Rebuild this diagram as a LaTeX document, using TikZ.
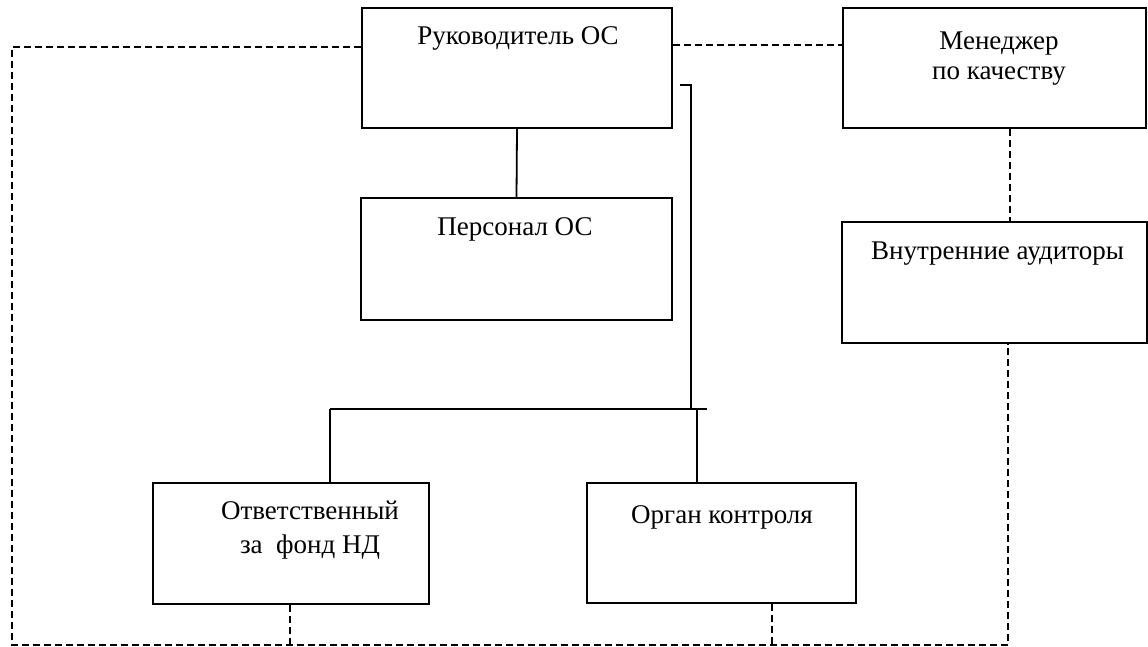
\documentclass[tikz,border=0pt]{standalone}
\usepackage{fontspec}
\setmainfont{Liberation Serif}
\begin{document}
\begin{tikzpicture}[x=1pt,y=-1pt,
  box/.style={draw, line width=1.8pt, inner sep=0pt, minimum width=#1},
  lbl/.style={anchor=base, inner sep=0pt, font=\fontsize{27}{32}\selectfont},
  conn/.style={line width=1.8pt},
  dsh/.style={line width=1.4pt, dash pattern=on 7pt off 4pt}]
\useasboundingbox (0,0) rectangle (1148,647);
% boxes
\node[box=310, minimum height=120] (ruk) at (517,68) {};
\node[box=303, minimum height=120] (men) at (994.5,68) {};
\node[box=311, minimum height=122] (pers) at (516.5,259) {};
\node[box=305, minimum height=121] (aud) at (994.5,282.5) {};
\node[box=276, minimum height=121] (otv) at (291,543.5) {};
\node[box=269, minimum height=120] (org) at (721.5,543) {};
% texts
\node[lbl] (trukl) at (518,45) {Руководитель ОС};
\node[lbl] (tmen1) at (999,50) {Менеджер};
\node[lbl] (tmen2) at (999,80) {по качеству};
\node[lbl] (tpers) at (515,235) {Персонал ОС};
\node[lbl] (taud) at (997.5,259) {Внутренние аудиторы};
\node[lbl] (totv1) at (310,519) {Ответственный};
\node[lbl] (totv2) at (310,553) {за \ фонд НД};
\node[lbl] (torg) at (722,523) {Орган контроля};
% coordinates
\coordinate (tap) at (680,85);
\coordinate (bend) at (691,409);
\coordinate (busl) at (330,409);
\coordinate (busr) at (707,409);
\coordinate (drop) at (697,409);
\coordinate (lt) at (12,47);
\coordinate (lb) at (12,645);
\coordinate (rb) at (1008,645);
\coordinate (mt) at (0,45);
% solid connectors
\draw[conn] (ruk.south) -- (pers.north);
\draw[conn] (tap) -| (bend);
\draw[conn] (busl) -- (busr);
\draw[conn] (drop) -- (drop |- org.north);
\draw[conn] (busl) -- (busl |- otv.north);
% dashed connectors
\draw[dsh] (ruk.west |- lt) -- (lt) -- (lb) -- (rb) -- (rb |- aud.south);
\draw[dsh] (ruk.east |- mt) -- (men.west |- mt);
\draw[dsh] (men.south -| 1010,0) -- (aud.north -| 1010,0);
\draw[dsh] (otv.south -| 290,0) -- (290,645);
\draw[dsh] (org.south -| 772,0) -- (772,645);
\end{tikzpicture}
\end{document}
